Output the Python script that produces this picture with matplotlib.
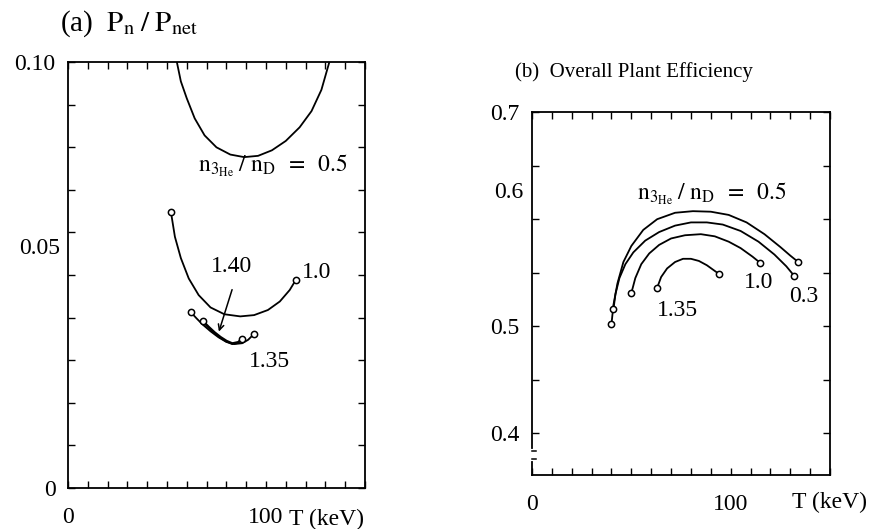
import matplotlib
matplotlib.use("Agg")
import matplotlib.pyplot as plt
from matplotlib.ticker import MultipleLocator, FixedLocator

OUTPUT_PLOT = "out.png"

plt.rcParams["font.family"] = ["Liberation Serif", "DejaVu Serif"]
plt.rcParams["mathtext.fontset"] = "stix"

# (a) Pn / Pnet versus T (keV), one curve per n3He/nD
T_a_05 = [55, 57, 60, 64, 69, 75, 82, 89, 96, 103, 110, 117, 123, 128, 132]
pn_a_05 = [0.100, 0.0955, 0.0915, 0.0868, 0.0828, 0.0800, 0.0783, 0.0777,
           0.0780, 0.0793, 0.0815, 0.0847, 0.0885, 0.0935, 0.100]
T_a_10 = [52, 54, 57, 61, 66, 72, 79, 87, 94, 101, 107, 112, 115]
pn_a_10 = [0.0648, 0.0590, 0.0540, 0.0492, 0.0453, 0.0424, 0.0408, 0.0403,
           0.0406, 0.0418, 0.0438, 0.0465, 0.0488]
T_a_135 = [62, 65, 68, 72, 76, 80, 84, 88, 91, 94]
pn_a_135 = [0.0413, 0.0398, 0.0384, 0.0368, 0.0354, 0.0343, 0.0338, 0.0340,
            0.0348, 0.0362]
T_a_140 = [68, 71, 74, 77, 80, 83, 86, 88]
pn_a_140 = [0.0392, 0.0378, 0.0365, 0.0354, 0.0345, 0.0339, 0.0342, 0.0350]

# (b) overall plant efficiency versus T (keV)
T_b_05 = [40, 41, 43, 46, 50, 56, 63, 72, 81, 90, 99, 108, 117, 125, 130, 134]
eff_b_05 = [0.502, 0.520, 0.540, 0.560, 0.575, 0.590, 0.600, 0.606, 0.6075,
            0.607, 0.604, 0.597, 0.586, 0.574, 0.566, 0.560]
T_b_03 = [41, 42, 44, 47, 51, 57, 64, 72, 80, 88, 96, 105, 114, 122, 128, 132]
eff_b_03 = [0.516, 0.530, 0.545, 0.558, 0.569, 0.580, 0.588, 0.594, 0.597,
            0.597, 0.595, 0.589, 0.579, 0.567, 0.556, 0.547]
T_b_10 = [50, 52, 55, 59, 64, 70, 77, 85, 92, 99, 105, 111, 115]
eff_b_10 = [0.531, 0.545, 0.558, 0.568, 0.576, 0.582, 0.585, 0.586, 0.584,
            0.579, 0.573, 0.565, 0.559]
T_b_135 = [63, 65, 68, 72, 76, 80, 84, 88, 91, 94]
eff_b_135 = [0.536, 0.546, 0.554, 0.560, 0.563, 0.563, 0.561, 0.557, 0.553,
             0.549]

RATIO_LABEL = r"$\mathrm{n_{3_{He}}\;/\;n_{D}\;\;=\;\;0.5}$"
FS = 17


def style_axes(ax, ymin, ymax, yminor, yticks, ylabels, tlabel_x):
    ax.set_xlim(0, 150)
    ax.set_ylim(ymin, ymax)
    ax.xaxis.set_major_locator(FixedLocator([0, 100]))
    ax.set_xticklabels(["0", "100"], fontsize=FS)
    ax.xaxis.set_minor_locator(MultipleLocator(10))
    ax.yaxis.set_major_locator(FixedLocator(yticks))
    ax.set_yticklabels(ylabels, fontsize=FS)
    ax.yaxis.set_minor_locator(MultipleLocator(yminor))
    ax.tick_params(which="both", direction="in", top=True, right=True,
                   length=5, width=1.0)
    ax.tick_params(axis="x", pad=14)
    ax.tick_params(axis="y", pad=9)
    for s in ax.spines.values():
        s.set_linewidth(1.3)
    ax.text(tlabel_x, -0.075, "T (keV)", transform=ax.transAxes, fontsize=FS,
            ha="center", va="center")


def curve(ax, x, y, lw=1.3, ends=True):
    kw = dict(color="black", linewidth=lw)
    if ends:
        kw.update(marker="o", markersize=4.5, markerfacecolor="white",
                  markeredgecolor="black", markeredgewidth=1.1,
                  markevery=[0, len(x) - 1])
    ax.plot(x, y, **kw)


def plot_figure():
    fig = plt.figure(figsize=(8.75, 5.29), dpi=100)

    # ---- panel (a)
    ax1 = fig.add_axes([0.0777, 0.0775, 0.3394, 0.805])
    curve(ax1, T_a_05, pn_a_05, ends=False)
    curve(ax1, T_a_10, pn_a_10)
    curve(ax1, T_a_135, pn_a_135)
    curve(ax1, T_a_140, pn_a_140, lw=2.0)
    style_axes(ax1, 0, 0.10, 0.01, [0, 0.05, 0.10], ["0", "", "0.10"], 0.87)
    ax1.annotate("0.05", xy=(0, 0.05), xycoords=("axes fraction", "data"),
                 xytext=(-6, 19), textcoords="offset points",
                 ha="right", va="center", fontsize=FS)
    ax1.text(65.7, 0.0758, RATIO_LABEL, fontsize=FS, ha="left", va="center")
    ax1.text(118, 0.0507, "1.0", fontsize=FS, ha="left", va="center")
    ax1.text(102, 0.0296, "1.35", fontsize=FS, ha="center", va="center")
    ax1.text(82.8, 0.0521, "1.40", fontsize=FS, ha="center", va="center")
    ax1.annotate("", xy=(75.8, 0.0361), xytext=(83.3, 0.0472),
                 arrowprops=dict(arrowstyle="->", color="black", lw=1.1))
    fig.text(0.0686, 0.955, r"(a)  $\mathrm{P_n\;/\;P_{net}}$",
             fontsize=21, ha="left", va="center")

    # ---- panel (b)
    ax2 = fig.add_axes([0.608, 0.102, 0.3406, 0.686])
    curve(ax2, T_b_05, eff_b_05)
    curve(ax2, T_b_03, eff_b_03)
    curve(ax2, T_b_10, eff_b_10)
    curve(ax2, T_b_135, eff_b_135)
    style_axes(ax2, 0.361, 0.70, 0.05, [0.4, 0.5, 0.6, 0.7],
               ["0.4", "0.5", "", "0.7"], 0.997)
    ax2.annotate("0.6", xy=(0, 0.6), xycoords=("axes fraction", "data"),
                 xytext=(-6, 19), textcoords="offset points",
                 ha="right", va="center", fontsize=FS)
    ax2.text(90.4, 0.6234, RATIO_LABEL, fontsize=FS, ha="center", va="center")
    ax2.text(114.1, 0.541, "1.0", fontsize=FS, ha="center", va="center")
    ax2.text(136.9, 0.528, "0.3", fontsize=FS, ha="center", va="center")
    ax2.text(73.2, 0.515, "1.35", fontsize=FS, ha="center", va="center")

    # axis break on the left spine of (b)
    tr = ax2.get_yaxis_transform()
    ax2.plot([0, 0], [0.376, 0.383], transform=tr, color="white", lw=3,
             clip_on=False, zorder=5)
    ax2.plot([0, 0.012], [0.376, 0.376], transform=tr, color="black", lw=1.1,
             clip_on=False, zorder=6)
    ax2.plot([0, 0.012], [0.383, 0.383], transform=tr, color="black", lw=1.1,
             clip_on=False, zorder=6)

    fig.text(0.589, 0.864, "(b)  Overall Plant Efficiency",
             fontsize=15, ha="left", va="center")

    fig.savefig(OUTPUT_PLOT, dpi=100)
    print(f"[PLOT] Saved figure to: {OUTPUT_PLOT}")


if __name__ == "__main__":
    plot_figure()
